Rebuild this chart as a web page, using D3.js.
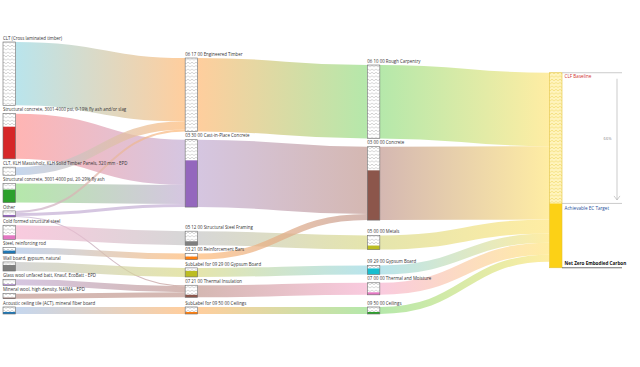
<!DOCTYPE html>
<html>
<head>
<meta charset="utf-8">
<script src="https://cdn.jsdelivr.net/npm/d3@7"></script>
<style>
  body { margin: 0; background: #fff; }
  svg text { font-family: "Open Sans", sans-serif; }
</style>
</head>
<body>
<svg id="chart"></svg>
<script>
var width = 640, height = 367;

// ---- data ----
var materials = [
  "CLT (Cross laminated timber)",
  "Structural concrete, 3001-4000 psi, 0-19% fly ash and/or slag",
  "CLT, KLH Massivholz, KLH Solid Timber Panels, 320 mm - EPD",
  "Structural concrete, 3001-4000 psi, 20-29% fly ash",
  "Other",
  "Cold formed structural steel",
  "Steel, reinforcing rod",
  "Wall board, gypsum, natural",
  "Glass wool unfaced batt, Knauf, EcoBatt - EPD",
  "Mineral wool, high density, NAIMA - EPD",
  "Acoustic ceiling tile (ACT), mineral fiber board"
];
var elements = [
  "06 17 00 Engineered Timber",
  "03 30 00 Cast-in-Place Concrete",
  "05 12 00 Structural Steel Framing",
  "03 21 00 Reinforcement Bars",
  "SubLabel for 09 29 00 Gypsum Board",
  "07 21 00 Thermal Insulation",
  "SubLabel for 09 50 00 Ceilings"
];
var divisions = [
  "06 10 00 Rough Carpentry",
  "03 00 00 Concrete",
  "05 00 00 Metals",
  "09 29 00 Gypsum Board",
  "07 00 00 Thermal and Moisture",
  "09 50 00 Ceilings"
];
var buildingTotal = "Building total";

// [material, element, baseline, achievable]
var materialFlows = [
  ["CLT (Cross laminated timber)", "06 17 00 Engineered Timber", 63, 0],
  ["Structural concrete, 3001-4000 psi, 0-19% fly ash and/or slag", "03 30 00 Cast-in-Place Concrete", 45, 32],
  ["CLT, KLH Massivholz, KLH Solid Timber Panels, 320 mm - EPD", "06 17 00 Engineered Timber", 8, 0],
  ["Structural concrete, 3001-4000 psi, 20-29% fly ash", "03 30 00 Cast-in-Place Concrete", 19, 13],
  ["Other", "06 17 00 Engineered Timber", 2, 0],
  ["Other", "03 30 00 Cast-in-Place Concrete", 3, 1.5],
  ["Other", "07 21 00 Thermal Insulation", 1, 0.5],
  ["Cold formed structural steel", "05 12 00 Structural Steel Framing", 14, 4],
  ["Steel, reinforcing rod", "03 21 00 Reinforcement Bars", 6, 3],
  ["Wall board, gypsum, natural", "SubLabel for 09 29 00 Gypsum Board", 9, 6],
  ["Glass wool unfaced batt, Knauf, EcoBatt - EPD", "07 21 00 Thermal Insulation", 6, 1],
  ["Mineral wool, high density, NAIMA - EPD", "07 21 00 Thermal Insulation", 5, 1],
  ["Acoustic ceiling tile (ACT), mineral fiber board", "SubLabel for 09 50 00 Ceilings", 7, 2]
];
var elementToDivision = [
  ["06 17 00 Engineered Timber", "06 10 00 Rough Carpentry"],
  ["03 30 00 Cast-in-Place Concrete", "03 00 00 Concrete"],
  ["05 12 00 Structural Steel Framing", "05 00 00 Metals"],
  ["03 21 00 Reinforcement Bars", "03 00 00 Concrete"],
  ["SubLabel for 09 29 00 Gypsum Board", "09 29 00 Gypsum Board"],
  ["07 21 00 Thermal Insulation", "07 00 00 Thermal and Moisture"],
  ["SubLabel for 09 50 00 Ceilings", "09 50 00 Ceilings"]
];
var clfBaseline = 194;      // benchmark for the building, same units as flows
var reductionLabel = "66%";

// ---- colours [solid, link] ----
var colors = {
  "CLT (Cross laminated timber)": ["#17becf", "#9edae5"],
  "Structural concrete, 3001-4000 psi, 0-19% fly ash and/or slag": ["#d62728", "#ff9896"],
  "CLT, KLH Massivholz, KLH Solid Timber Panels, 320 mm - EPD": ["#1f77b4", "#aec7e8"],
  "Structural concrete, 3001-4000 psi, 20-29% fly ash": ["#2ca02c", "#98df8a"],
  "Other": ["#9467bd", "#c5b0d5"],
  "Cold formed structural steel": ["#e377c2", "#f7b6d2"],
  "Steel, reinforcing rod": ["#1f77b4", "#aec7e8"],
  "Wall board, gypsum, natural": ["#7f7f7f", "#c7c7c7"],
  "Glass wool unfaced batt, Knauf, EcoBatt - EPD": ["#9467bd", "#c5b0d5"],
  "Mineral wool, high density, NAIMA - EPD": ["#8c564b", "#c49c94"],
  "Acoustic ceiling tile (ACT), mineral fiber board": ["#1f77b4", "#aec7e8"],
  "06 17 00 Engineered Timber": ["#ff7f0e", "#ffbb78"],
  "03 30 00 Cast-in-Place Concrete": ["#9467bd", "#c5b0d5"],
  "05 12 00 Structural Steel Framing": ["#7f7f7f", "#c7c7c7"],
  "03 21 00 Reinforcement Bars": ["#ff7f0e", "#ffbb78"],
  "SubLabel for 09 29 00 Gypsum Board": ["#bcbd22", "#dbdb8d"],
  "07 21 00 Thermal Insulation": ["#8c564b", "#c49c94"],
  "SubLabel for 09 50 00 Ceilings": ["#ff7f0e", "#ffbb78"],
  "06 10 00 Rough Carpentry": ["#2ca02c", "#98df8a"],
  "03 00 00 Concrete": ["#8c564b", "#c49c94"],
  "05 00 00 Metals": ["#bcbd22", "#dbdb8d"],
  "09 29 00 Gypsum Board": ["#17becf", "#9edae5"],
  "07 00 00 Thermal and Moisture": ["#e377c2", "#f7b6d2"],
  "09 50 00 Ceilings": ["#2ca02c", "#98df8a"],
  "Building total": ["#fcd116", "#ffe680"]
};

// ---- graph ----
var nodes = [], byName = {}, links = [];
[materials, elements, divisions, [buildingTotal]].forEach(function(col, layer) {
  col.forEach(function(name) {
    var n = {name: name, layer: layer, sourceLinks: [], targetLinks: []};
    nodes.push(n); byName[name] = n;
  });
});
function addLink(s, t, v, a) {
  var l = {source: s, target: t, value: v, achievable: a, index: links.length};
  s.sourceLinks.push(l); t.targetLinks.push(l); links.push(l);
}
materialFlows.forEach(function(f) { addLink(byName[f[0]], byName[f[1]], f[2], f[3]); });
function inflow(n, k) { return d3.sum(n.targetLinks, function(l) { return l[k]; }); }
elementToDivision.forEach(function(p) {
  var s = byName[p[0]];
  addLink(s, byName[p[1]], inflow(s, "value"), inflow(s, "achievable"));
});
divisions.forEach(function(name) {
  var s = byName[name];
  addLink(s, byName[buildingTotal], inflow(s, "value"), inflow(s, "achievable"));
});
nodes.forEach(function(n) {
  n.value = Math.max(inflow(n, "value"), d3.sum(n.sourceLinks, function(l) { return l.value; }));
  n.achievable = Math.max(inflow(n, "achievable"), d3.sum(n.sourceLinks, function(l) { return l.achievable; }));
});
byName[buildingTotal].value = Math.max(byName[buildingTotal].value, clfBaseline);

// ---- sankey layout (classic centre-relaxation, 32 passes) ----
var X0 = 3, Y0 = 42, X1 = 562, Y1 = 314, dx = 12.5, py = 8.3, iterations = 32;
var H = Y1 - Y0;
var columns = d3.groups(nodes, function(d) { return d.layer; }).map(function(g) { return g[1]; });
var kx = (X1 - X0 - dx) / (columns.length - 1);
nodes.forEach(function(n) { n.x0 = X0 + n.layer * kx; n.x1 = n.x0 + dx; });

var ky = d3.min(columns, function(c) { return (H - (c.length - 1) * py) / d3.sum(c, function(d) { return d.value; }); });
columns.forEach(function(c) { c.forEach(function(n, i) { n.y = i; n.dy = n.value * ky; }); });
links.forEach(function(l) { l.width = l.value * ky; });

function center(n) { return n.y + n.dy / 2; }
function resolveCollisions() {
  columns.forEach(function(c) {
    var n, d, y = 0, i;
    c.sort(function(a, b) { return a.y - b.y; });
    for (i = 0; i < c.length; ++i) { n = c[i]; d = y - n.y; if (d > 0) n.y += d; y = n.y + n.dy + py; }
    d = y - py - H;
    if (d > 0) {
      y = n.y -= d;
      for (i = c.length - 2; i >= 0; --i) { n = c[i]; d = n.y + n.dy + py - y; if (d > 0) n.y -= d; y = n.y; }
    }
  });
}
function relaxLeftToRight(alpha) {
  columns.forEach(function(c) {
    c.forEach(function(n) {
      if (!n.targetLinks.length) return;
      var y = d3.sum(n.targetLinks, function(l) { return center(l.source) * l.value; }) /
              d3.sum(n.targetLinks, function(l) { return l.value; });
      n.y += (y - center(n)) * alpha;
    });
  });
}
function relaxRightToLeft(alpha) {
  columns.slice().reverse().forEach(function(c) {
    c.forEach(function(n) {
      if (!n.sourceLinks.length) return;
      var y = d3.sum(n.sourceLinks, function(l) { return center(l.target) * l.value; }) /
              d3.sum(n.sourceLinks, function(l) { return l.value; });
      n.y += (y - center(n)) * alpha;
    });
  });
}
resolveCollisions();
for (var alpha = 1, k = iterations; k > 0; --k) {
  relaxRightToLeft(alpha *= 0.99); resolveCollisions();
  relaxLeftToRight(alpha); resolveCollisions();
}
nodes.forEach(function(n) { n.y0 = Y0 + n.y; n.y1 = n.y0 + n.dy; });
nodes.forEach(function(n) {
  n.sourceLinks.sort(function(a, b) { return a.target.y0 - b.target.y0; });
  n.targetLinks.sort(function(a, b) { return a.source.y0 - b.source.y0; });
});
nodes.forEach(function(n) {
  var a = n.y0, b = n.y0;
  n.sourceLinks.forEach(function(l) { l.y0 = a + l.width / 2; a += l.width; });
  n.targetLinks.forEach(function(l) { l.y1 = b + l.width / 2; b += l.width; });
});

// ---- draw ----
var svg = d3.select("#chart").attr("width", width).attr("height", height);
var defs = svg.append("defs");

function hatch(id, bg, line) {
  var p = defs.append("pattern").attr("id", id).attr("patternUnits", "userSpaceOnUse")
    .attr("width", 4).attr("height", 3.4);
  p.append("rect").attr("width", 4).attr("height", 3.4).attr("fill", bg);
  p.append("path").attr("d", "M0,1 L2,2.4 L4,1").attr("fill", "none")
    .attr("stroke", line).attr("stroke-width", 0.45);
}
hatch("hatch", "#ffffff", "#9a9a9a");
hatch("hatchGold", "#fff4bd", "#e9c93c");

links.forEach(function(l) {
  var g = defs.append("linearGradient").attr("id", "grad" + l.index)
    .attr("gradientUnits", "userSpaceOnUse")
    .attr("x1", l.source.x1).attr("x2", l.target.x0);
  g.append("stop").attr("offset", "0%").attr("stop-color", colors[l.source.name][1]);
  g.append("stop").attr("offset", "100%").attr("stop-color", colors[l.target.name][1]);
});

var linkPath = d3.linkHorizontal()
  .source(function(d) { return [d.source.x1, d.y0]; })
  .target(function(d) { return [d.target.x0, d.y1]; });

svg.append("g").attr("fill", "none").attr("stroke-opacity", 0.72)
  .selectAll("path").data(links).join("path")
  .attr("d", linkPath)
  .attr("stroke", function(d) { return "url(#grad" + d.index + ")"; })
  .attr("stroke-width", function(d) { return Math.max(1, d.width); });

var node = svg.append("g").selectAll("g").data(nodes).join("g");
node.append("rect")
  .attr("x", function(d) { return d.x0; })
  .attr("y", function(d) { return d.y0; })
  .attr("width", dx)
  .attr("height", function(d) { return d.y1 - d.y0 - d.achievable * ky; })
  .attr("fill", function(d) { return d.name === buildingTotal ? "url(#hatchGold)" : "url(#hatch)"; });
node.append("rect")
  .attr("x", function(d) { return d.x0; })
  .attr("y", function(d) { return d.y1 - d.achievable * ky; })
  .attr("width", dx)
  .attr("height", function(d) { return d.achievable * ky; })
  .attr("fill", function(d) { return colors[d.name][0]; });
node.append("rect")
  .attr("x", function(d) { return d.x0; })
  .attr("y", function(d) { return d.y0; })
  .attr("width", dx)
  .attr("height", function(d) { return d.y1 - d.y0; })
  .attr("fill", "none")
  .attr("stroke", function(d) { return d.name === buildingTotal ? "#e3c13a" : "#6b6b6b"; })
  .attr("stroke-width", 0.6);

node.filter(function(d) { return d.name !== buildingTotal; })
  .append("text")
  .attr("x", function(d) { return d.x0; })
  .attr("y", function(d) { return d.y0 - 2.3; })
  .attr("font-size", 4.4)
  .attr("fill", "#333")
  .text(function(d) { return d.name; });

// ---- baseline / target annotations ----
var tot = byName[buildingTotal];
var yTarget = tot.y1 - tot.achievable * ky;
var ann = svg.append("g");
ann.append("line").attr("x1", tot.x1).attr("x2", 622).attr("y1", tot.y0).attr("y2", tot.y0)
  .attr("stroke", "#b5b5b5").attr("stroke-width", 0.7);
ann.append("line").attr("x1", tot.x1).attr("x2", 622).attr("y1", yTarget).attr("y2", yTarget)
  .attr("stroke", "#b5b5b5").attr("stroke-width", 0.7);
ann.append("line").attr("x1", tot.x1).attr("x2", 622).attr("y1", tot.y1).attr("y2", tot.y1)
  .attr("stroke", "#333").attr("stroke-width", 0.7);
ann.append("text").attr("x", tot.x1 + 2.5).attr("y", tot.y0 + 5.5)
  .attr("font-size", 4.6).attr("fill", "#d0312d").text("CLF Baseline");
ann.append("text").attr("x", tot.x1 + 2.5).attr("y", yTarget + 6.5)
  .attr("font-size", 4.6).attr("fill", "#1f4e9a").text("Achievable EC Target");
ann.append("text").attr("x", tot.x1 + 2.5).attr("y", tot.y1 - 3)
  .attr("font-size", 4.6).attr("font-weight", "bold").attr("fill", "#111").text("Net Zero Embodied Carbon");
ann.append("line").attr("x1", 617).attr("x2", 617).attr("y1", tot.y0 + 6).attr("y2", yTarget - 3.5)
  .attr("stroke", "#aaa").attr("stroke-width", 0.6);
ann.append("path")
  .attr("d", "M614," + (yTarget - 7.5) + " L617," + (yTarget - 3.5) + " L620," + (yTarget - 7.5))
  .attr("fill", "none").attr("stroke", "#aaa").attr("stroke-width", 0.6);
ann.append("text").attr("x", 611.5).attr("y", (tot.y0 + yTarget) / 2 + 1.5)
  .attr("text-anchor", "end").attr("font-size", 4).attr("fill", "#888").text(reductionLabel);
</script>
</body>
</html>
